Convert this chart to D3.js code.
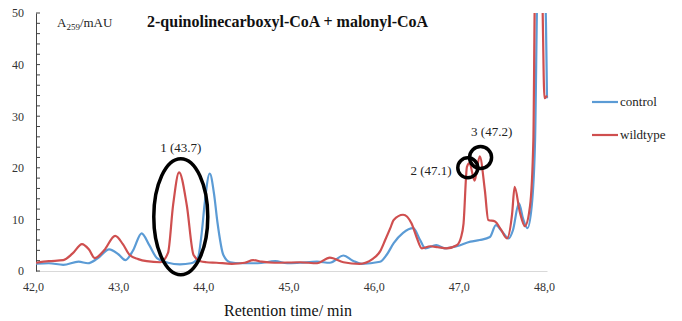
<!DOCTYPE html>
<html>
<head>
	<title>HPLC trace</title>
	<script src="https://d3js.org/d3.v7.min.js"></script>
	<style type="text/css">
		*
		{
			margin:0;
			padding:0;
		}
		body
		{
			background:#fff;
		}
		svg text
		{
			font-family: "Liberation Serif", "DejaVu Serif", serif !important;
		}
	</style>
</head>
<body>
	<div id="chart"></div>
	<script>
		// control (blue) trace
		const ctlTime = [42.00, 42.15, 42.32, 42.50, 42.61, 42.72, 42.86, 42.97, 43.05, 43.14, 43.24, 43.33, 43.42, 43.55, 43.69, 43.82, 43.90, 43.95, 43.98, 44.04, 44.09, 44.13, 44.20, 44.28, 44.40, 44.60, 44.81, 44.95, 45.10, 45.30, 45.45, 45.61, 45.72, 45.82, 46.04, 46.12, 46.20, 46.31, 46.43, 46.51, 46.57, 46.70, 46.80, 46.94, 47.10, 47.21, 47.33, 47.40, 47.47, 47.55, 47.60, 47.67, 47.72, 47.77, 47.82, 47.86, 47.89, 47.975, 48.00];
		const ctlValue = [1.4, 1.5, 1.2, 1.8, 1.5, 2.4, 4.2, 3.2, 2.1, 4.0, 7.3, 5.0, 2.5, 1.6, 1.3, 1.5, 2.5, 8.0, 13.0, 18.9, 15.0, 9.5, 3.1, 1.7, 1.5, 1.5, 1.9, 1.5, 1.6, 1.8, 1.6, 3.0, 2.0, 1.4, 1.8, 3.2, 5.4, 7.4, 8.3, 6.0, 4.4, 5.0, 4.4, 4.8, 5.7, 6.0, 6.6, 8.9, 7.7, 6.3, 7.9, 13.1, 10.1, 8.3, 12.5, 25.4, 55, 55, 33.5];

		// wildtype (red) trace
		const wtTime = [42.00, 42.15, 42.32, 42.43, 42.54, 42.62, 42.69, 42.80, 42.93, 43.02, 43.10, 43.20, 43.30, 43.46, 43.55, 43.61, 43.68, 43.77, 43.85, 43.93, 44.00, 44.12, 44.30, 44.45, 44.55, 44.65, 44.80, 45.10, 45.30, 45.45, 45.61, 45.80, 45.95, 46.04, 46.10, 46.16, 46.20, 46.31, 46.41, 46.47, 46.53, 46.63, 46.72, 46.82, 46.94, 46.99, 47.02, 47.06, 47.09, 47.15, 47.21, 47.27, 47.31, 47.39, 47.46, 47.53, 47.59, 47.62, 47.68, 47.74, 47.80, 47.84, 47.86, 47.94, 47.97, 48.00];
		const wtValue = [1.6, 1.9, 2.1, 3.4, 5.2, 4.2, 2.5, 4.0, 6.8, 5.2, 3.1, 2.3, 1.9, 1.7, 3.5, 12.8, 19.1, 12.8, 3.1, 1.9, 1.7, 1.6, 1.4, 1.6, 2.1, 1.8, 1.6, 1.7, 1.5, 2.6, 1.7, 1.4, 2.3, 3.8, 6.0, 8.3, 9.9, 10.9, 9.2, 6.5, 4.4, 4.8, 4.6, 4.4, 5.0, 6.5, 9.2, 20.2, 20.9, 17.5, 22.2, 15.7, 9.9, 9.6, 8.0, 6.3, 11.0, 16.3, 11.5, 8.7, 12.5, 25.4, 55, 55, 33.5, 34.0];

		const xTicks = [42, 43, 44, 45, 46, 47, 48];
		const yTicks = [0, 10, 20, 30, 40, 50];

		// annotations: label text, label position, marker centre (time, mAU)
		const peakLabels = ["1 (43.7)", "2 (47.1)", "3 (47.2)"];
		const labelTime = [43.7, 46.88, 47.35];
		const labelValue = [23.1, 18.6, 26.2];
		const markTime = [43.7, 47.07, 47.22];
		const markValue = [10.5, 20.0, 22.0];

		const width = 682;
		const height = 321;

		const svg = d3.select("#chart").append("svg")
			.attr("width", width)
			.attr("height", height);

		const x = d3.scaleLinear().domain([42, 48]).range([36, 547]);
		const y = d3.scaleLinear().domain([0, 50]).range([271, 13]);

		svg.append("defs").append("clipPath").attr("id", "plot")
			.append("rect")
			.attr("x", x(42))
			.attr("y", y(50))
			.attr("width", x(48) - x(42) + 4)
			.attr("height", y(0) - y(50) + 4);

		// x axis: light baseline, labels only
		const xAxis = svg.append("g")
			.attr("transform", "translate(0," + y(0) + ")")
			.call(d3.axisBottom(x).tickValues(xTicks).tickSize(0).tickPadding(11).tickFormat(d => d3.format(".1f")(d).replace(".", ",")));
		xAxis.attr("font-family", null);
		xAxis.select(".domain").attr("stroke", "#d9d9d9");
		xAxis.selectAll("text").attr("font-size", 12).attr("fill", "#333").attr("dx", -3);

		// y axis with minor ticks every 2
		const yAxis = svg.append("g")
			.attr("transform", "translate(" + x(42) + ",0)")
			.call(d3.axisLeft(y).tickValues(yTicks).tickSize(0).tickPadding(12));
		yAxis.attr("font-family", null);
		yAxis.select(".domain").attr("stroke", "#444");
		yAxis.selectAll("text").attr("font-size", 12).attr("fill", "#333");
		yAxis.selectAll(".minor")
			.data(d3.range(0, 51, 2))
			.enter()
			.append("line")
			.attr("class", "minor")
			.attr("x1", 0)
			.attr("x2", 4)
			.attr("y1", d => y(d))
			.attr("y2", d => y(d))
			.attr("stroke", "#444");

		const line = d3.line()
			.x(d => x(d[0]))
			.y(d => y(d[1]))
			.curve(d3.curveMonotoneX);

		const traces = svg.append("g").attr("clip-path", "url(#plot)");

		traces.append("path")
			.datum(ctlTime.map((t, i) => [t, ctlValue[i]]))
			.attr("d", line)
			.attr("fill", "none")
			.attr("stroke", "#5b9bd5")
			.attr("stroke-width", 2.2);

		traces.append("path")
			.datum(wtTime.map((t, i) => [t, wtValue[i]]))
			.attr("d", line)
			.attr("fill", "none")
			.attr("stroke", "#cf4f4f")
			.attr("stroke-width", 2.2);

		// markers round the peaks
		svg.append("ellipse")
			.attr("cx", x(markTime[0]))
			.attr("cy", y(markValue[0]))
			.attr("rx", 27)
			.attr("ry", 58)
			.attr("fill", "none")
			.attr("stroke", "#000")
			.attr("stroke-width", 3.5);

		svg.selectAll(".ring")
			.data([1, 2])
			.enter()
			.append("circle")
			.attr("class", "ring")
			.attr("cx", i => x(markTime[i]))
			.attr("cy", i => y(markValue[i]))
			.attr("r", i => i == 1 ? 10 : 11)
			.attr("fill", "none")
			.attr("stroke", "#000")
			.attr("stroke-width", 3.5);

		svg.selectAll(".peak-label")
			.data(peakLabels)
			.enter()
			.append("text")
			.attr("class", "peak-label")
			.attr("x", (d, i) => x(labelTime[i]))
			.attr("y", (d, i) => y(labelValue[i]))
			.attr("text-anchor", (d, i) => i == 1 ? "end" : "middle")
			.attr("font-size", 13)
			.attr("fill", "#222")
			.text(d => d);

		// title and axis titles
		svg.append("text")
			.attr("x", 147)
			.attr("y", 27)
			.attr("font-size", 16)
			.attr("font-weight", "bold")
			.attr("fill", "#111")
			.text("2-quinolinecarboxyl-CoA + malonyl-CoA");

		const yTitle = svg.append("text")
			.attr("x", 57)
			.attr("y", 27)
			.attr("font-size", 13)
			.attr("fill", "#222");
		yTitle.append("tspan").text("A");
		yTitle.append("tspan").attr("font-size", 9).attr("dy", 3).text("259");
		yTitle.append("tspan").attr("dy", -3).text("/mAU");

		svg.append("text")
			.attr("x", 288)
			.attr("y", 316)
			.attr("text-anchor", "middle")
			.attr("font-size", 16)
			.attr("fill", "#111")
			.text("Retention time/ min");

		// legend
		const legendNames = ["control", "wildtype"];
		const legendColors = ["#5b9bd5", "#cf4f4f"];
		const legend = svg.append("g").attr("id", "legend");
		legendNames.forEach((name, i) => {
			const ly = 102 + i * 33;
			legend.append("line")
				.attr("x1", 592)
				.attr("x2", 618)
				.attr("y1", ly)
				.attr("y2", ly)
				.attr("stroke", legendColors[i])
				.attr("stroke-width", 2.2);
			legend.append("text")
				.attr("x", 620)
				.attr("y", ly + 4)
				.attr("font-size", 13)
				.attr("fill", "#222")
				.text(name);
		});
	</script>
</body>
</html>
